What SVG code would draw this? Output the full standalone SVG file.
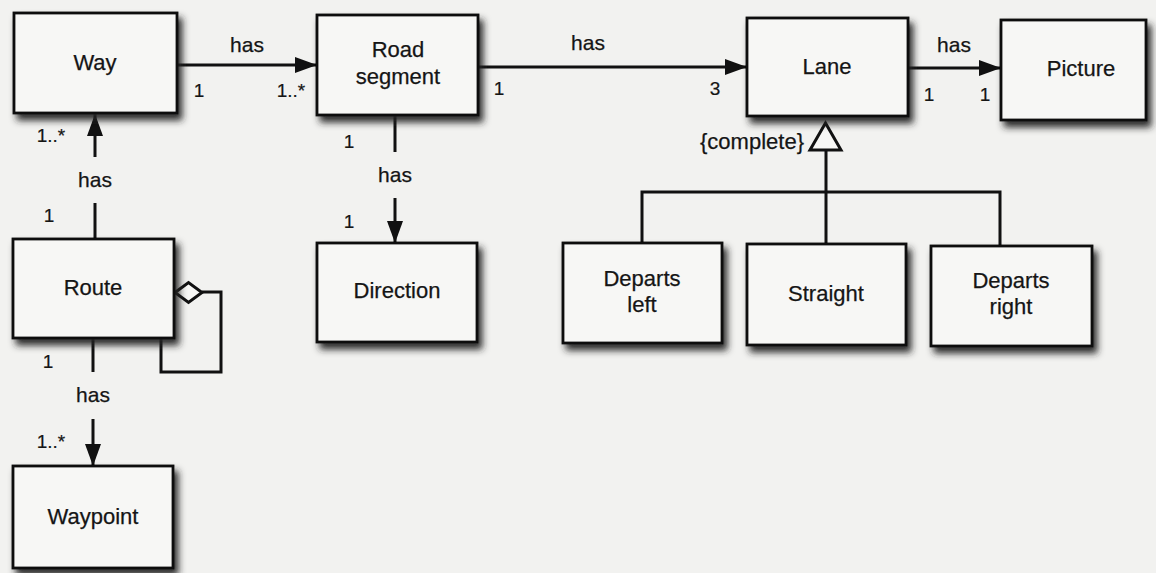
<svg xmlns="http://www.w3.org/2000/svg" width="1156" height="573" viewBox="0 0 1156 573">
<defs>
<filter id="sh" x="-10%" y="-10%" width="130%" height="140%">
<feGaussianBlur in="SourceAlpha" stdDeviation="3.5" result="b"/>
<feOffset in="b" dx="4" dy="6" result="o"/>
<feFlood flood-color="#222" flood-opacity="0.95"/>
<feComposite in2="o" operator="in" result="s"/>
<feMerge><feMergeNode in="s"/><feMergeNode in="SourceGraphic"/></feMerge>
</filter>
<marker id="arr" viewBox="0 0 22 16" refX="22" refY="8" markerWidth="22" markerHeight="16" markerUnits="userSpaceOnUse" orient="auto">
<path d="M0,0 L22,8 L0,16 Z" fill="#111"/>
</marker>
</defs>
<style>
.box{fill:#f7f7f5;stroke:#111;stroke-width:2.8;filter:url(#sh)}
.nm{font-family:"Liberation Sans",Arial,sans-serif;font-size:22px;fill:#151515;stroke:#151515;stroke-width:0.25;text-anchor:middle}
.lb{font-family:"Liberation Sans",Arial,sans-serif;font-size:21px;fill:#151515;stroke:#151515;stroke-width:0.25;text-anchor:middle}
.mu{font-family:"Liberation Sans",Arial,sans-serif;font-size:19px;fill:#151515;stroke:#151515;stroke-width:0.2;text-anchor:middle}
.ln{fill:none;stroke:#111;stroke-width:3}
</style>
<rect width="1156" height="573" fill="#f2f2f0"/>

<g id="connectors">
<line class="ln" x1="177" y1="65" x2="317" y2="65" marker-end="url(#arr)"/>
<line class="ln" x1="95" y1="157" x2="95" y2="114" marker-end="url(#arr)"/>
<line class="ln" x1="95" y1="203" x2="95" y2="239"/>
<line class="ln" x1="93" y1="338" x2="93" y2="372"/>
<line class="ln" x1="93" y1="419" x2="93" y2="466" marker-end="url(#arr)"/>
<polyline class="ln" points="202,292 221,292 221,372 161,372 161,339"/>
<polygon points="175,292.5 188.5,282.5 202,292.5 188.5,302.5" fill="#f7f7f5" stroke="#111" stroke-width="3" stroke-linejoin="miter"/>
<line class="ln" x1="395" y1="115" x2="395" y2="152"/>
<line class="ln" x1="395" y1="198" x2="395" y2="243" marker-end="url(#arr)"/>
<line class="ln" x1="478" y1="67" x2="747" y2="67" marker-end="url(#arr)"/>
<line class="ln" x1="908" y1="68" x2="1001" y2="68" marker-end="url(#arr)"/>
<line class="ln" x1="826" y1="150" x2="826" y2="244"/>
<polyline class="ln" points="642,243 642,192 1000,192 1000,246"/>
<polygon points="825.5,123 810,150 841,150" fill="#f7f7f5" stroke="#111" stroke-width="3"/>
<text class="lb" x="247" y="52">has</text>
<text class="mu" x="199" y="97">1</text>
<text class="mu" x="291" y="97">1..*</text>
<text class="lb" x="95" y="187">has</text>
<text class="mu" x="51" y="142">1..*</text>
<text class="mu" x="49" y="222">1</text>
<text class="mu" x="48" y="368">1</text>
<text class="lb" x="93" y="402">has</text>
<text class="mu" x="51" y="448">1..*</text>
<text class="mu" x="349" y="148">1</text>
<text class="lb" x="395" y="182">has</text>
<text class="mu" x="349" y="228">1</text>
<text class="lb" x="588" y="50">has</text>
<text class="mu" x="499" y="95">1</text>
<text class="mu" x="715" y="95">3</text>
<text class="lb" x="954" y="52">has</text>
<text class="mu" x="929" y="101">1</text>
<text class="mu" x="985" y="101">1</text>
<text class="lb" x="752" y="149" style="font-size:22px">{complete}</text>
</g>

<g id="way"><rect class="box" x="14" y="13" width="163" height="100"/><text class="nm" x="95" y="70">Way</text></g>
<g id="road-segment"><rect class="box" x="317" y="15" width="161" height="100"/><text class="nm" x="398" y="57">Road</text><text class="nm" x="398" y="84">segment</text></g>
<g id="lane"><rect class="box" x="747" y="18" width="161" height="98"/><text class="nm" x="827" y="74">Lane</text></g>
<g id="picture"><rect class="box" x="1001" y="20" width="145" height="100"/><text class="nm" x="1081" y="76">Picture</text></g>
<g id="route"><rect class="box" x="13" y="239" width="161" height="99"/><text class="nm" x="93" y="295">Route</text></g>
<g id="waypoint"><rect class="box" x="13" y="466" width="160" height="102"/><text class="nm" x="93" y="524">Waypoint</text></g>
<g id="direction"><rect class="box" x="317" y="243" width="160" height="99"/><text class="nm" x="397" y="298">Direction</text></g>
<g id="departs-left"><rect class="box" x="563" y="243" width="159" height="100"/><text class="nm" x="642" y="286">Departs</text><text class="nm" x="642" y="312">left</text></g>
<g id="straight"><rect class="box" x="747" y="244" width="159" height="101"/><text class="nm" x="826" y="301">Straight</text></g>
<g id="departs-right"><rect class="box" x="931" y="246" width="161" height="100"/><text class="nm" x="1011" y="288">Departs</text><text class="nm" x="1011" y="314">right</text></g>
</svg>
